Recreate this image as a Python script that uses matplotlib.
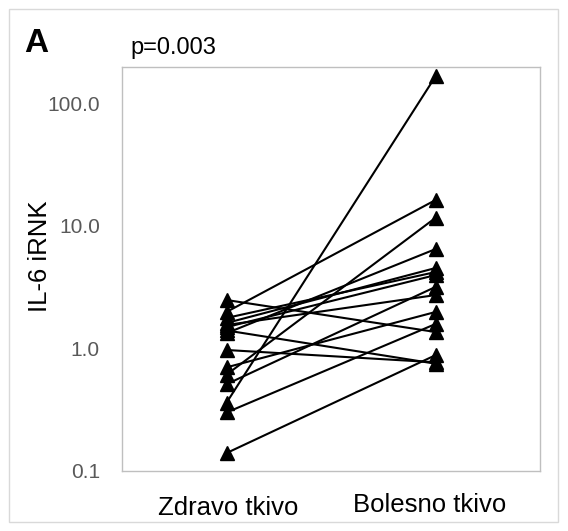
import matplotlib
matplotlib.use("Agg")
import matplotlib.pyplot as plt
from matplotlib.patches import Rectangle
from matplotlib.ticker import FixedLocator, NullLocator

plt.rcParams['font.family'] = ['Liberation Sans', 'DejaVu Sans']

# Data (paired samples, log scale)
groups = ["Zdravo tkivo", "Bolesno tkivo"]
zdravo = [0.36, 1.98, 0.61, 1.33, 1.61, 1.77, 1.49, 0.51, 1.55, 0.70, 0.30, 2.48, 0.14, 1.40, 0.97]
bolesno = [165, 16.2, 11.6, 6.45, 4.52, 4.19, 3.96, 3.17, 2.72, 1.98, 1.58, 1.36, 0.88, 0.75, 0.77]
y_ticks = [0.1, 1, 10, 100]
y_tick_labels = ["0.1", "1.0", "10.0", "100.0"]
p_text = "p=0.003"
panel_label = "A"
y_label = "IL-6 iRNK"

W, H = 568, 531
fig = plt.figure(figsize=(W / 100, H / 100), dpi=100)

# outer chart border
fig.patches.append(Rectangle((9 / W, 9 / H), 549 / W, 513 / H, transform=fig.transFigure,
                             fill=False, edgecolor='#d9d9d9', linewidth=1))

ax = fig.add_axes([122 / W, 1 - 471 / H, 418 / W, 404 / H])

for a, b in zip(zdravo, bolesno):
    ax.plot([1, 2], [a, b], color='black', linewidth=1.5, marker='^',
            markersize=10.5, markerfacecolor='black', markeredgecolor='black',
            clip_on=False)

ax.set_yscale('log')
ax.set_ylim(0.1, 197)
ax.set_xlim(0.5, 2.5)
ax.yaxis.set_major_locator(FixedLocator(y_ticks))
ax.yaxis.set_minor_locator(NullLocator())
ax.set_yticklabels(y_tick_labels)
ax.tick_params(axis='y', length=0, pad=16, labelsize=15, labelcolor='#595959')
ax.set_xticks([])

for s in ax.spines.values():
    s.set_color('#bfbfbf')
    s.set_linewidth(1)

# category labels (slightly staggered as in the reference)
fig.text(228 / W, 1 - 515 / H, groups[0], ha='center', va='baseline', fontsize=18.5)
fig.text(430 / W, 1 - 512 / H, groups[1], ha='center', va='baseline', fontsize=18.5)

fig.text(40 / W, 1 - 256 / H, y_label, rotation=90, ha='center', va='center', fontsize=18.5)
fig.text(130 / W, 1 - 48 / H, p_text, ha='left', va='center', fontsize=17)
fig.text(24 / W, 1 - 43 / H, panel_label, ha='left', va='center', fontsize=24, fontweight='bold')

fig.savefig('out.png', dpi=100)
